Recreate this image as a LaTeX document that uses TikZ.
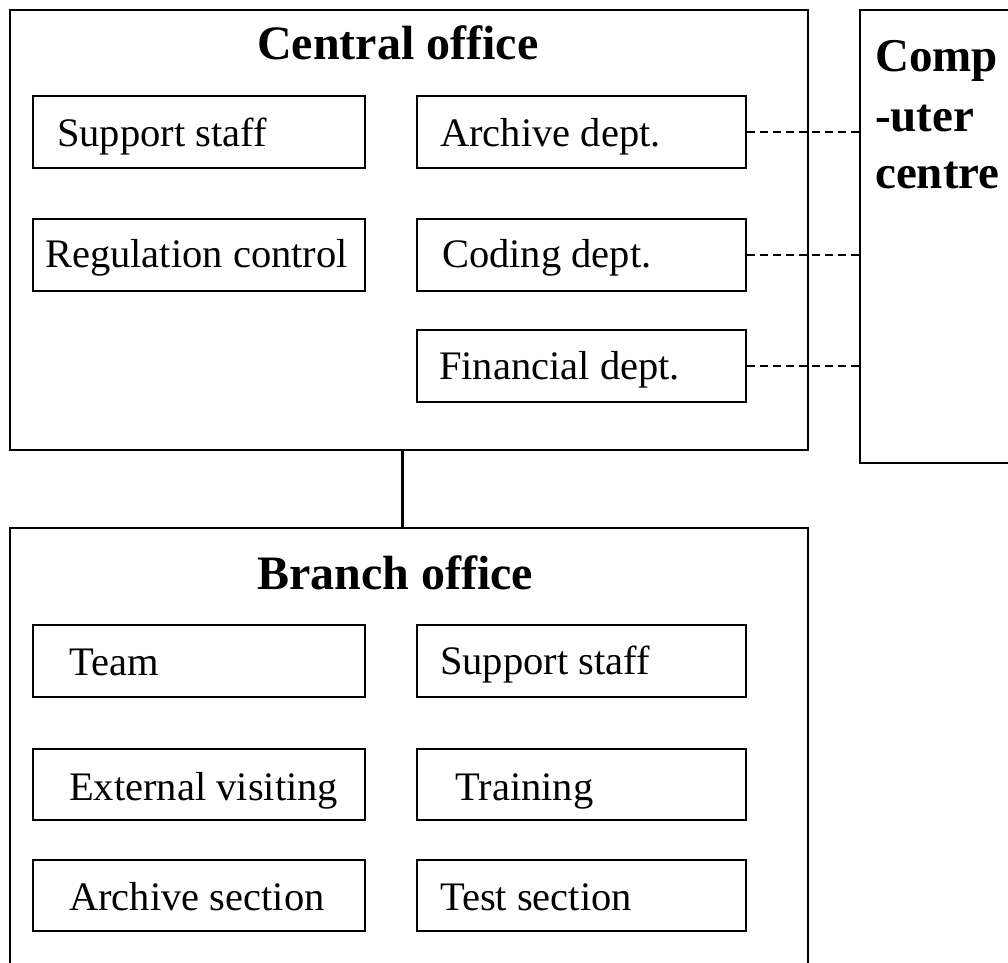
\documentclass[tikz,border=0pt]{standalone}
\usepackage{fontspec}
\setmainfont{Liberation Serif}
\begin{document}
\begin{tikzpicture}[x=1pt,y=-1pt,
  obox/.style={draw, line width=1.5pt, inner sep=0pt},
  ibox/.style={draw, line width=1.5pt, inner sep=0pt, minimum height=72pt},
  lcol/.style={ibox, minimum width=332pt},
  rcol/.style={ibox, minimum width=329pt},
  lbl/.style={anchor=base west, inner sep=0pt, font=\fontsize{40.5}{48}\selectfont},
  ttl/.style={anchor=base west, inner sep=0pt, font=\fontsize{48}{56}\selectfont\bfseries},
  cct/.style={anchor=base west, inner sep=0pt, font=\fontsize{47}{56}\selectfont\bfseries},
  dashline/.style={line width=1.5pt, dash pattern=on 8pt off 5pt},
  link/.style={line width=3pt}]
\useasboundingbox (0,0) rectangle (1008,962);
\clip (0,0) rectangle (1008,962);
\fill[white] (0,0) rectangle (1008,962);

% outer boxes
\node[obox, minimum width=798pt, minimum height=440pt] (cen) at (409,230) {};
\node[obox, minimum width=180pt, minimum height=453pt] (cc) at (950,236.5) {};
\node[obox, minimum width=798pt, minimum height=472pt] (br) at (409,764) {};

% titles
\node[ttl] (tcen) at (257,59) {Central office};
\node[ttl] (tbr) at (257,589) {Branch office};
\node[cct] (cc1) at (875,71) {Comp};
\node[cct] (cc2) at (875,131) {-uter};
\node[cct] (cc3) at (875,188) {centre};

% central office inner boxes
\node[lcol] (css) at (199,132) {};
\node[lbl] (tcss) at (57,146) {Support staff};
\node[lcol, minimum height=72pt] (reg) at (199,255) {};
\node[lbl] (treg) at (45,267) {Regulation control};
\node[rcol] (arch) at (581.5,132) {};
\node[lbl] (tarch) at (440,146) {Archive dept.};
\node[rcol, minimum height=72pt] (cod) at (581.5,255) {};
\node[lbl] (tcod) at (442,267) {Coding dept.};
\node[rcol, minimum height=72pt] (fin) at (581.5,366) {};
\node[lbl] (tfin) at (439,379) {Financial dept.};

% branch office inner boxes
\node[lcol] (team) at (199,661) {};
\node[lbl] (tteam) at (69,675) {Team};
\node[rcol] (bss) at (581.5,661) {};
\node[lbl] (tbss) at (440,674) {Support staff};
\node[lcol, minimum height=71pt] (ext) at (199,784.5) {};
\node[lbl] (text) at (69,800) {External visiting};
\node[rcol, minimum height=71pt] (trn) at (581.5,784.5) {};
\node[lbl] (ttrn) at (455,800) {Training};
\node[lcol, minimum height=71pt] (asec) at (199,895.5) {};
\node[lbl] (tasec) at (69,910) {Archive section};
\node[rcol, minimum height=71pt] (tsec) at (581.5,895.5) {};
\node[lbl] (ttsec) at (440,910) {Test section};

% connectors
\draw[link] ([xshift=-7pt]cen.south) -- ([xshift=-7pt]br.north);
\draw[dashline] (arch.east) -- (arch.east -| cc.west);
\draw[dashline] (cod.east) -- (cod.east -| cc.west);
\draw[dashline] (fin.east) -- (fin.east -| cc.west);
\end{tikzpicture}
\end{document}
